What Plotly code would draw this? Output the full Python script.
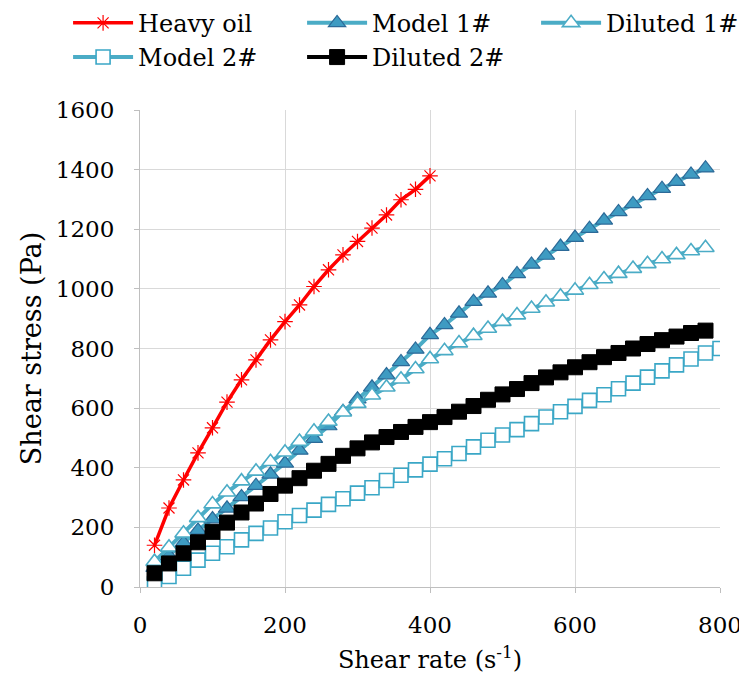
import plotly.graph_objects as go

# ---- data ----
heavy_x = list(range(20, 401, 20))
heavy_y = [140, 265, 359, 450, 534, 620, 695, 762, 829, 890, 946, 1008, 1064, 1114, 1159,
           1204, 1248, 1299, 1334, 1379]

m1_x = list(range(20, 781, 20))
m1_y = [65, 105, 148, 190, 228, 264, 302, 340, 378, 415, 458, 498, 540, 588, 630,
        670, 711, 755, 797, 846, 879, 918, 957, 985, 1013, 1050, 1082, 1112, 1142, 1172,
        1202, 1230, 1258, 1285, 1312, 1336, 1360, 1384, 1405]

d1_x = list(range(20, 781, 20))
d1_y = [85, 133, 180, 232, 278, 318, 355, 388, 420, 452, 488, 522, 555, 586, 615,
        643, 670, 697, 731, 765, 792, 818, 843, 867, 890, 912, 934, 955, 975, 995,
        1014, 1033, 1051, 1068, 1084, 1100, 1114, 1127, 1138]

m2_x = list(range(20, 801, 20))
m2_y = [10, 35, 63, 90, 113, 135, 158, 180, 198, 219, 240, 258, 277, 296, 315,
        333, 357, 375, 393, 412, 430, 448, 470, 492, 510, 528, 548, 570, 588, 606,
        626, 645, 665, 684, 704, 725, 745, 765, 785, 800]

d2_x = list(range(20, 781, 20))
d2_y = [46, 79, 113, 150, 185, 216, 250, 280, 312, 340, 365, 390, 413, 440, 465,
        485, 503, 520, 537, 553, 570, 588, 607, 628, 646, 664, 684, 703, 720, 737,
        754, 771, 785, 800, 815, 828, 840, 852, 860]

x_ticks = [0, 200, 400, 600, 800]
y_ticks = [0, 200, 400, 600, 800, 1000, 1200, 1400, 1600]

FONT = "DejaVu Serif"
AQUA = "#4BACC6"

fig = go.Figure()
fig.add_trace(go.Scatter(
    x=heavy_x, y=heavy_y, name="Heavy oil", mode="lines+markers",
    line=dict(color="#FF0000", width=3.5),
    marker=dict(symbol="asterisk-open", size=13, color="#FF0000",
                line=dict(color="#FF0000", width=1.2))))
fig.add_trace(go.Scatter(
    x=m1_x, y=m1_y, name="Model 1#", mode="lines+markers",
    line=dict(color=AQUA, width=4),
    marker=dict(symbol="triangle-up", size=15, color="#3E9BC2",
                line=dict(color="#2C6A98", width=1.2))))
fig.add_trace(go.Scatter(
    x=d1_x, y=d1_y, name="Diluted 1#", mode="lines+markers",
    line=dict(color=AQUA, width=4),
    marker=dict(symbol="triangle-up", size=15, color="#FFFFFF",
                line=dict(color=AQUA, width=1.6))))
fig.add_trace(go.Scatter(
    x=m2_x, y=m2_y, name="Model 2#", mode="lines+markers",
    line=dict(color=AQUA, width=4),
    marker=dict(symbol="square", size=14, color="#FFFFFF",
                line=dict(color="#3AA7C6", width=1.6))))
fig.add_trace(go.Scatter(
    x=d2_x, y=d2_y, name="Diluted 2#", mode="lines+markers",
    line=dict(color="#000000", width=4),
    marker=dict(symbol="square", size=15, color="#000000",
                line=dict(color="#000000", width=1))))

fig.update_layout(
    width=747, height=675,
    paper_bgcolor="white", plot_bgcolor="white",
    margin=dict(l=132, r=35, t=102, b=96, autoexpand=False),
    font=dict(family=FONT, size=23, color="#000000"),
    legend=dict(orientation="h", xref="paper", yref="paper",
                x=-0.124, y=1.229, xanchor="left", yanchor="top",
                entrywidth=159, entrywidthmode="pixels",
                font=dict(family=FONT, size=24, color="#000000"),
                itemwidth=60, bgcolor="rgba(0,0,0,0)"),
    showlegend=True,
)
fig.update_xaxes(
    range=[0, 800], tickvals=x_ticks, ticktext=[str(v) for v in x_ticks],
    showgrid=True, gridcolor="#D9D9D9", gridwidth=1.2,
    showline=True, linecolor="#BFBFBF", linewidth=1.2,
    ticks="outside", ticklen=5, tickcolor="#BFBFBF",
    tickfont=dict(family=FONT, size=23), zeroline=False,
    ticklabelstandoff=12,
    title=dict(text="Shear rate (s<sup>-1</sup>)", font=dict(family=FONT, size=24), standoff=14),
)
fig.update_yaxes(
    range=[0, 1600], tickvals=y_ticks, ticktext=[str(v) for v in y_ticks],
    showgrid=True, gridcolor="#D9D9D9", gridwidth=1.2,
    showline=True, linecolor="#BFBFBF", linewidth=1.2,
    ticks="outside", ticklen=5, tickcolor="#BFBFBF",
    tickfont=dict(family=FONT, size=23), zeroline=False,
    ticklabelstandoff=15,
    title=dict(text="Shear stress (Pa)", font=dict(family=FONT, size=27), standoff=6),
)

fig.write_html("out.html")
